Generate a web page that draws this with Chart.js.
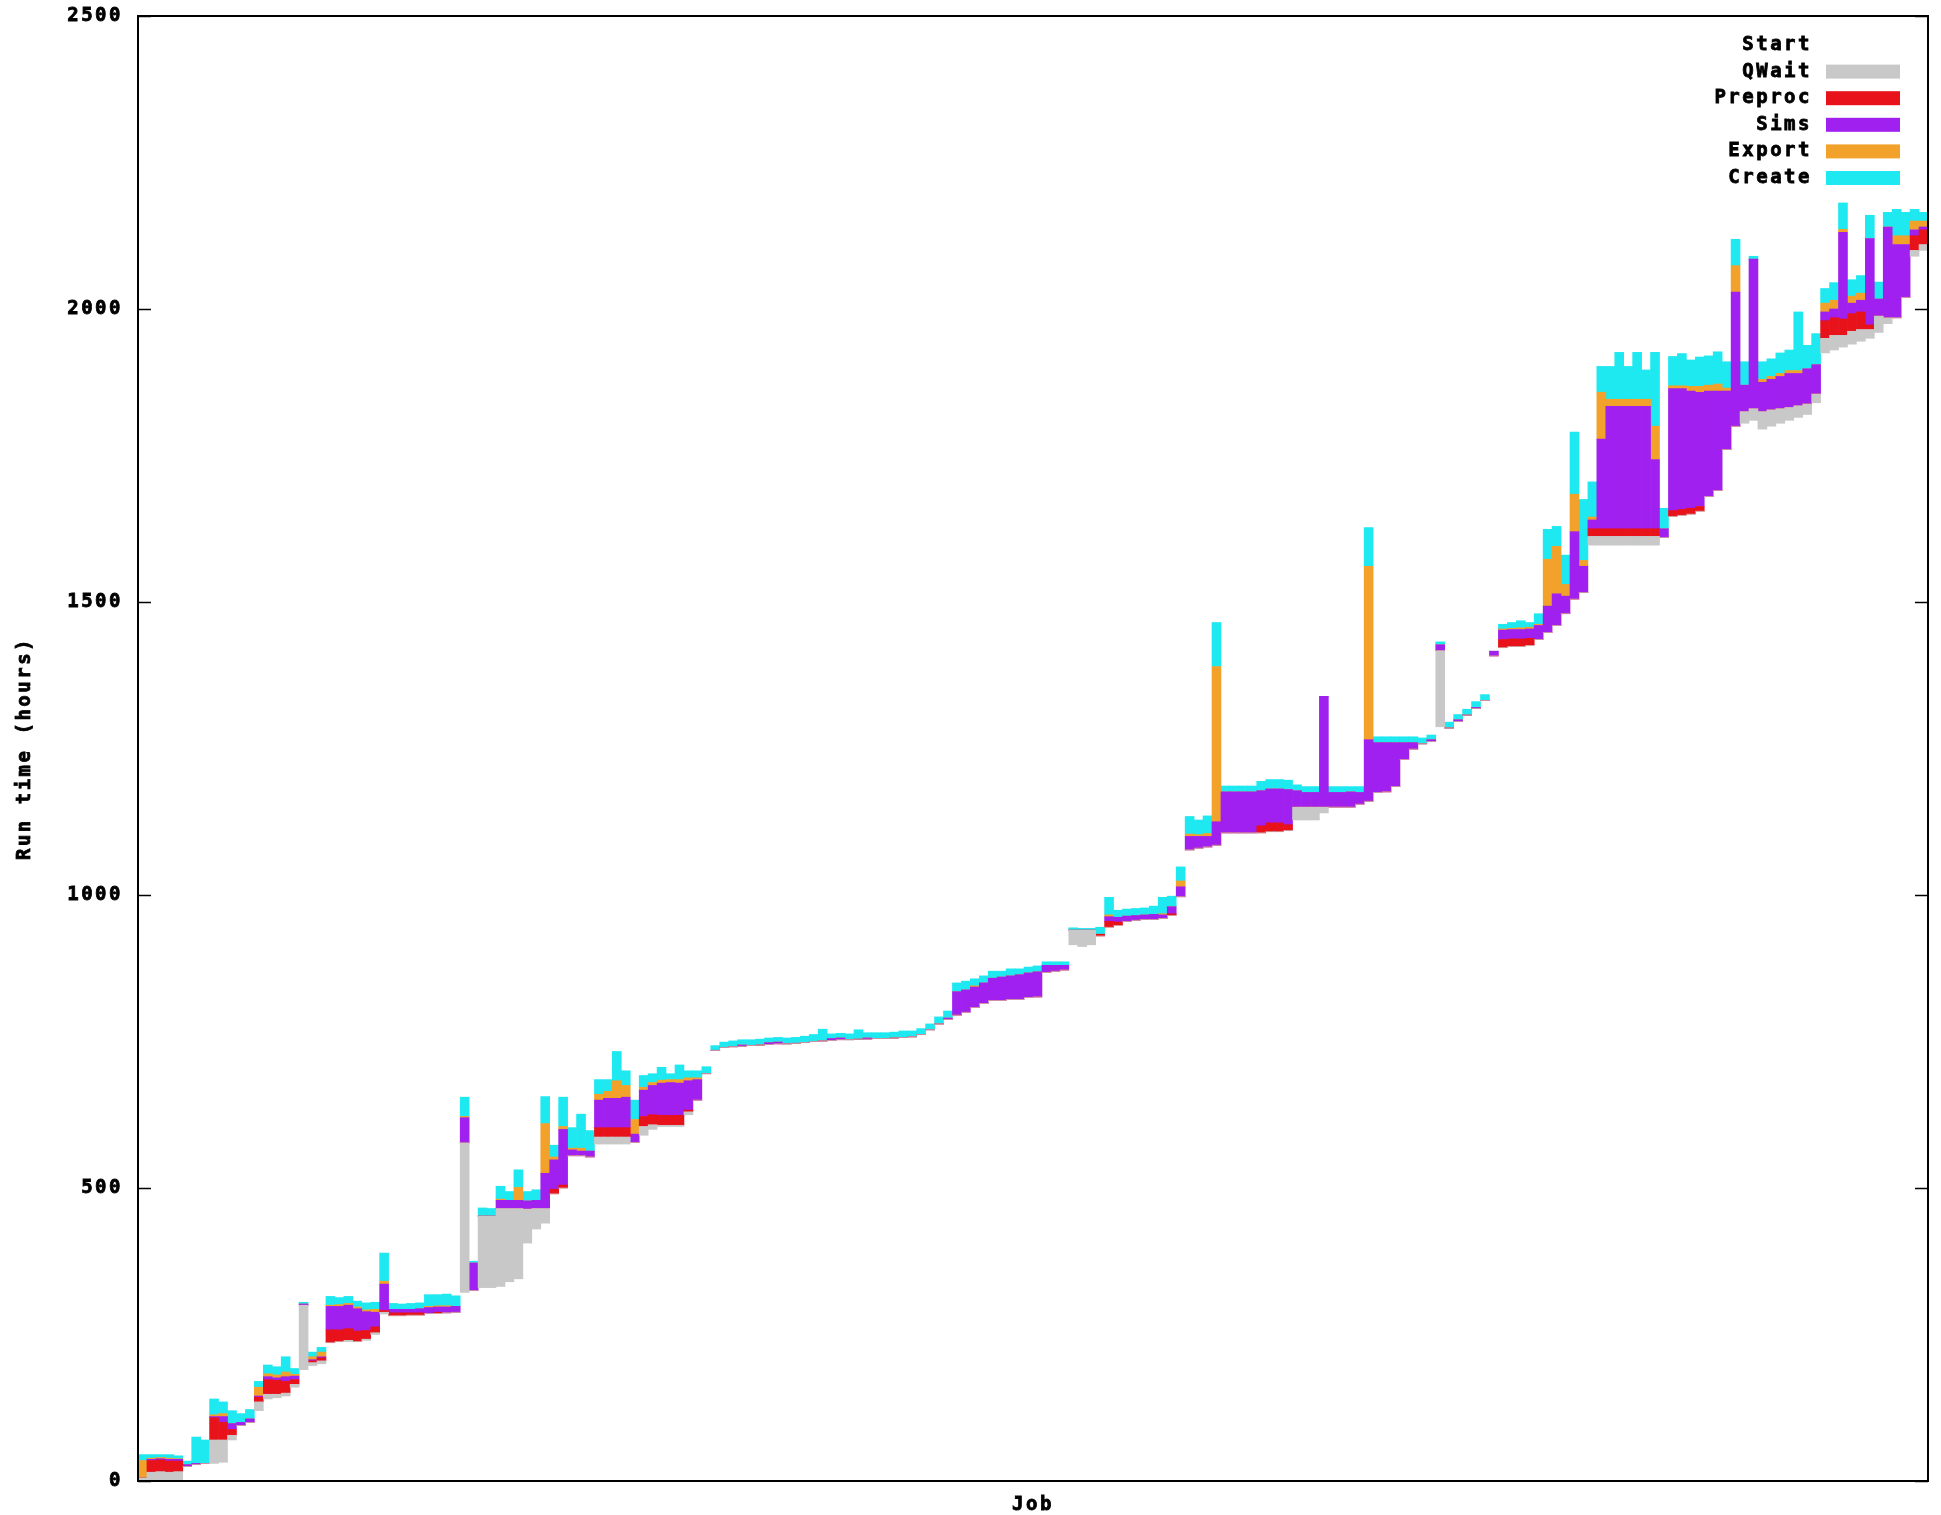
<!DOCTYPE html>
<html>
<head>
<meta charset="utf-8">
<script src="https://cdn.jsdelivr.net/npm/chart.js@4.4.1/dist/chart.umd.min.js"></script>
<style>
    html, body { margin: 0; padding: 0; background: #fff; }
</style>
</head>
<body>
<canvas id="jobChart" width="1941" height="1515"></canvas>
<script>
// valeurs (heures), un job par colonne
const start = [
    0, 0, 0, 0, 2, 25, 28, 30, 30, 32,
    70, 95, 100, 120, 140, 142, 145, 160, 190, 197,
    200, 236, 238, 238, 238, 240, 250, 285, 282, 282,
    283, 283, 286, 286, 287, 288, 322, 325, 330, 330,
    332, 340, 345, 406, 430, 440, 490, 500, 555, 555,
    553, 575, 575, 575, 575, 578, 590, 600, 605, 605,
    605, 625, 650, 695, 735, 740, 741, 742, 743, 744,
    745, 746, 746, 747, 748, 750, 751, 752, 753, 753,
    754, 754, 755, 755, 756, 757, 758, 762, 770, 780,
    788, 795, 800, 808, 815, 820, 820, 822, 822, 825,
    826, 868, 870, 872, 915, 912, 915, 930, 945, 948,
    955, 957, 958, 958, 960, 965, 997, 1077, 1080, 1082,
    1085, 1106, 1106, 1106, 1106, 1106, 1108, 1108, 1110, 1128,
    1128, 1128, 1140, 1150, 1150, 1150, 1155, 1160, 1175, 1176,
    1185, 1231, 1249, 1258, 1262, 1287, 1285, 1296, 1307, 1318,
    1332, 1408, 1422, 1424, 1424, 1426, 1436, 1448, 1460, 1480,
    1505, 1516, 1597, 1597, 1597, 1597, 1597, 1597, 1597, 1597,
    1610, 1646, 1648, 1650, 1655, 1680, 1690, 1760, 1800, 1805,
    1810, 1795, 1800, 1805, 1810, 1815, 1820, 1840, 1925, 1930,
    1935, 1940, 1945, 1950, 1960, 1975, 1985, 2020, 2090, 2100
];
const qwait = [
    5, 15, 16, 15, 14, 0, 0, 0, 40, 38,
    8, 0, 0, 15, 8, 6, 5, 5, 110, 5,
    5, 0, 0, 2, 0, 2, 3, 3, 0, 0,
    0, 0, 0, 0, 0, 0, 255, 0, 122, 122,
    133, 125, 120, 58, 35, 25, 0, 0, 0, 0,
    0, 12, 12, 12, 12, 0, 15, 8, 2, 2,
    2, 5, 0, 0, 0, 0, 0, 0, 0, 0,
    0, 0, 0, 0, 0, 0, 0, 0, 0, 0,
    0, 0, 0, 0, 0, 0, 0, 0, 0, 0,
    0, 0, 0, 0, 0, 0, 0, 0, 0, 0,
    0, 0, 0, 0, 25, 28, 25, 0, 0, 0,
    0, 0, 0, 0, 0, 0, 0, 0, 0, 0,
    0, 0, 0, 0, 0, 0, 0, 0, 0, 22,
    22, 22, 10, 0, 0, 0, 0, 0, 0, 0,
    0, 0, 0, 0, 0, 130, 0, 0, 0, 0,
    0, 0, 0, 0, 0, 0, 0, 0, 0, 0,
    0, 0, 15, 15, 15, 15, 15, 15, 15, 15,
    0, 0, 0, 0, 0, 0, 0, 0, 0, 20,
    20, 30, 28, 25, 22, 20, 18, 15, 25, 25,
    20, 22, 20, 15, 28, 10, 0, 0, 10, 10
];
const preproc = [
    0, 20, 20, 19, 18, 0, 0, 0, 38, 30,
    10, 0, 0, 8, 25, 24, 20, 8, 0, 3,
    5, 22, 20, 20, 18, 15, 10, 3, 5, 5,
    4, 4, 0, 2, 0, 0, 0, 0, 0, 0,
    0, 0, 0, 0, 0, 0, 8, 5, 0, 0,
    0, 16, 16, 16, 16, 0, 17, 17, 17, 17,
    17, 3, 0, 0, 0, 0, 0, 0, 0, 0,
    0, 0, 0, 0, 0, 0, 0, 0, 0, 0,
    0, 0, 0, 0, 0, 0, 0, 0, 0, 0,
    0, 0, 0, 0, 0, 0, 0, 0, 0, 0,
    0, 0, 0, 0, 0, 0, 0, 3, 10, 6,
    0, 0, 0, 0, 0, 3, 0, 0, 0, 0,
    0, 0, 0, 0, 0, 12, 15, 15, 10, 0,
    0, 0, 0, 0, 0, 0, 0, 0, 0, 0,
    0, 0, 0, 0, 0, 0, 0, 0, 0, 0,
    0, 0, 14, 13, 13, 12, 0, 0, 0, 0,
    0, 0, 13, 13, 13, 13, 13, 13, 13, 13,
    0, 10, 10, 10, 8, 0, 0, 0, 0, 0,
    0, 0, 0, 0, 0, 0, 0, 0, 30, 30,
    28, 30, 30, 8, 0, 0, 0, 0, 25, 25
];
const sims = [
    0, 2, 2, 3, 3, 3, 2, 0, 2, 10,
    10, 5, 6, 2, 5, 4, 8, 6, 2, 2,
    2, 40, 40, 40, 38, 32, 25, 45, 6, 6,
    6, 7, 10, 9, 10, 10, 43, 47, 0, 0,
    14, 14, 14, 14, 14, 60, 50, 95, 10, 8,
    10, 47, 50, 50, 52, 14, 45, 50, 55, 56,
    55, 50, 35, 0, 0, 0, 0, 2, 0, 0,
    3, 3, 0, 0, 0, 0, 0, 3, 3, 0,
    0, 2, 0, 0, 0, 0, 0, 0, 0, 0,
    2, 40, 38, 35, 35, 38, 40, 40, 42, 42,
    43, 12, 10, 8, 0, 0, 0, 0, 8, 8,
    9, 8, 8, 9, 6, 12, 17, 23, 20, 18,
    40, 70, 70, 70, 70, 60, 58, 58, 60, 28,
    25, 25, 189, 25, 25, 26, 20, 105, 85, 84,
    75, 29, 11, 0, 3, 10, 0, 3, 0, 2,
    0, 8, 16, 16, 16, 16, 24, 45, 54, 30,
    115, 45, 15, 153, 209, 209, 209, 209, 209, 118,
    15, 208, 206, 200, 195, 180, 170, 100, 229, 45,
    255, 50, 52, 55, 58, 55, 60, 50, 15, 15,
    148, 18, 20, 147, 29, 155, 125, 90, 10, 5
];
const exportT = [
    30, 2, 2, 2, 1, 0, 0, 0, 3, 5,
    0, 0, 0, 15, 5, 5, 8, 3, 0, 5,
    8, 2, 3, 3, 3, 3, 5, 5, 0, 0,
    0, 0, 2, 2, 2, 0, 2, 0, 0, 0,
    2, 0, 22, 0, 0, 85, 5, 5, 3, 5,
    0, 10, 12, 30, 20, 25, 5, 5, 5, 5,
    6, 5, 3, 0, 0, 0, 0, 0, 0, 0,
    0, 0, 0, 0, 0, 0, 0, 0, 0, 0,
    0, 0, 0, 0, 0, 0, 0, 0, 0, 0,
    0, 0, 0, 2, 0, 0, 0, 0, 0, 0,
    0, 0, 0, 0, 0, 0, 0, 0, 3, 0,
    0, 0, 0, 0, 2, 0, 10, 4, 3, 5,
    265, 0, 0, 0, 0, 0, 0, 0, 0, 0,
    0, 0, 0, 0, 0, 0, 0, 296, 0, 0,
    0, 0, 0, 0, 0, 0, 0, 0, 0, 0,
    0, 0, 2, 2, 3, 3, 2, 80, 81, 20,
    64, 10, 5, 80, 12, 12, 12, 12, 12, 57,
    0, 5, 5, 8, 10, 10, 12, 5, 45, 0,
    0, 5, 5, 5, 5, 5, 0, 0, 15, 15,
    5, 12, 12, 0, 0, 0, 15, 15, 15, 10
];
const create = [
    10, 6, 5, 6, 5, 6, 45, 40, 27, 20,
    22, 15, 16, 10, 15, 14, 26, 10, 3, 8,
    8, 15, 12, 12, 10, 12, 12, 48, 10, 9,
    10, 10, 20, 19, 20, 18, 33, 3, 14, 13,
    22, 15, 30, 16, 18, 46, 20, 50, 35, 58,
    35, 25, 20, 50, 25, 33, 20, 15, 22, 10,
    25, 12, 12, 12, 8, 9, 10, 9, 10, 10,
    8, 8, 10, 10, 11, 12, 20, 8, 8, 10,
    16, 9, 10, 10, 10, 11, 10, 10, 10, 12,
    12, 15, 15, 12, 12, 12, 10, 12, 10, 10,
    10, 6, 6, 6, 4, 3, 3, 12, 30, 12,
    12, 12, 12, 14, 28, 18, 24, 30, 25, 30,
    75, 10, 10, 10, 10, 16, 16, 16, 16, 10,
    10, 10, 0, 10, 10, 9, 10, 66, 10, 10,
    10, 10, 10, 10, 8, 5, 10, 9, 10, 10,
    10, 0, 8, 10, 12, 8, 18, 51, 34, 50,
    106, 104, 60, 44, 56, 80, 56, 80, 50, 126,
    35, 50, 55, 45, 50, 50, 55, 45, 45, 40,
    5, 30, 30, 35, 35, 100, 40, 53, 25, 30,
    45, 28, 30, 40, 29, 25, 45, 40, 20, 15
];
const jobs = start.map((_, i) => 'job ' + (i + 1));
const yTicks = [0, 500, 1000, 1500, 2000, 2500];

const fontFam = '"DejaVu Sans Mono", "Liberation Mono", monospace';

// cadre, petites graduations, titres et légende à la gnuplot
const gnuplotLook = {
    id: 'gnuplotLook',
    beforeDraw(chart) {
        const ctx = chart.ctx;
        ctx.fillStyle = '#fff';
        ctx.fillRect(0, 0, chart.width, chart.height);
        ctx.letterSpacing = '2.5px';
    },
    afterDraw(chart) {
        const ctx = chart.ctx;
        const a = chart.chartArea;
        const y = chart.scales.y;
        ctx.save();
        ctx.strokeStyle = '#000';
        ctx.lineWidth = 2;
        ctx.strokeRect(a.left, a.top, a.right - a.left, a.bottom - a.top);
        ctx.lineWidth = 1.5;
        yTicks.forEach(v => {
            const py = Math.round(y.getPixelForValue(v)) + 0.5;
            ctx.beginPath();
            ctx.moveTo(a.left, py); ctx.lineTo(a.left + 13, py);
            ctx.moveTo(a.right, py); ctx.lineTo(a.right - 13, py);
            ctx.stroke();
        });

        const label = (txt, x, yy) => {
            ctx.fillText(txt, x, yy);
            ctx.strokeText(txt, x, yy);
        };
        ctx.fillStyle = '#000';
        ctx.strokeStyle = '#000';
        ctx.lineWidth = 0.8;
        ctx.font = 'bold 19px ' + fontFam;
        ctx.letterSpacing = '2.5px';
        ctx.textBaseline = 'middle';
        ctx.textAlign = 'center';
        label('Job', (a.left + a.right) / 2, 1505);
        ctx.save();
        ctx.translate(25, (a.top + a.bottom) / 2);
        ctx.rotate(-Math.PI / 2);
        label('Run time (hours)', 0, 0);
        ctx.restore();

        ctx.textAlign = 'right';
        chart.data.datasets.forEach((ds, i) => {
            const ly = 45 + i * 26.6;
            ctx.fillStyle = '#000';
            label(ds.label, 1812, ly);
            if (ds.label !== 'Start') {
                ctx.fillStyle = ds.backgroundColor;
                ctx.fillRect(1826, ly - 7, 74, 14);
            }
        });
        ctx.restore();
    }
};

const ctxJobs = document.getElementById('jobChart').getContext('2d');
new Chart(ctxJobs, {
    type: 'bar',
    data: {
        labels: jobs,
        datasets: [
            { label: 'Start', data: start, backgroundColor: 'rgba(255,255,255,0)' },
            { label: 'QWait', data: qwait, backgroundColor: '#c8c8c8' },
            { label: 'Preproc', data: preproc, backgroundColor: '#e8121a' },
            { label: 'Sims', data: sims, backgroundColor: '#a020f0' },
            { label: 'Export', data: exportT, backgroundColor: '#f2a22a' },
            { label: 'Create', data: create, backgroundColor: '#1ee8f0' }
        ]
    },
    options: {
        responsive: false,
        animation: false,
        barPercentage: 1,
        categoryPercentage: 1,
        layout: { padding: { top: 16, right: 13, bottom: 34, left: 0 } },
        scales: {
            x: { stacked: true, display: false },
            y: {
                stacked: true,
                min: 0, max: 2500,
                afterFit: scale => {
                    scale.width = 138;
                    scale.paddingTop = 0;
                    scale.paddingBottom = 0;
                },
                afterBuildTicks: scale => { scale.ticks = yTicks.map(v => ({ value: v })); },
                grid: { display: false, drawTicks: false },
                border: { display: false },
                ticks: {
                    padding: 15,
                    color: '#000',
                    textStrokeColor: '#000',
                    textStrokeWidth: 0.8,
                    font: { family: fontFam, weight: 'bold', size: 19 },
                    callback: v => String(v)
                }
            }
        },
        plugins: { legend: { display: false }, tooltip: { enabled: false } }
    },
    plugins: [gnuplotLook]
});
</script>
</body>
</html>
